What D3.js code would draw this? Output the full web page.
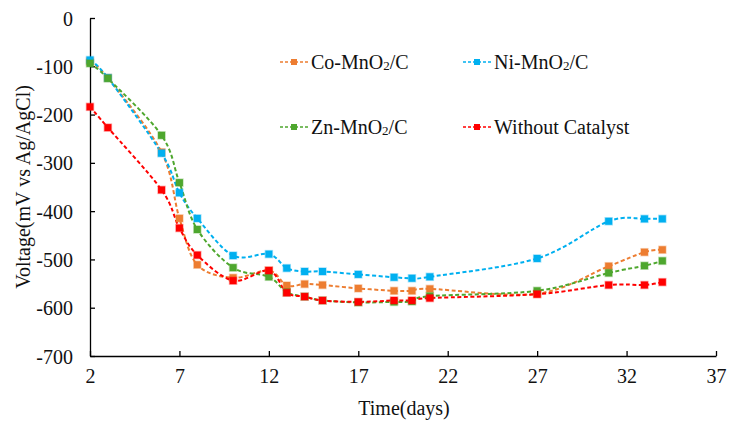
<!DOCTYPE html>
<html>
<head>
<meta charset="utf-8">
<script src="https://cdn.jsdelivr.net/npm/d3@7"></script>
<style>
  body { margin: 0; background: #fff; }
  svg text { font-family: "Liberation Serif", "Times New Roman", serif; fill: #111; }
</style>
</head>
<body>
<svg id="chart" width="729" height="421"></svg>
<script>
// data
var days = [2, 3, 6, 7, 8, 10, 12, 13, 14, 15, 17, 19, 20, 21, 27, 31, 33, 34];
var coVals = [-90, -124, -278, -415, -511, -538, -523, -554, -551, -553, -560, -565, -565, -561, -571, -514, -485, -480];
var niVals = [-87, -124, -280, -362, -415, -492, -489, -518, -525, -525, -531, -537, -539, -536, -498, -421, -416, -416];
var znVals = [-94, -125, -243, -341, -438, -517, -536, -568, -577, -585, -589, -588, -587, -576, -565, -528, -513, -503];
var noCatVals = [-184, -227, -356, -435, -491, -544, -523, -569, -577, -585, -588, -585, -585, -580, -572, -553, -553, -547];

var seriesNames = ["Co-MnO2/C", "Ni-MnO2/C", "Zn-MnO2/C", "Without Catalyst"];
var seriesColors = ["#ED7D31", "#00B0F0", "#4EA72E", "#FF0000"];
var seriesVals = [coVals, niVals, znVals, noCatVals];

var xTicks = [2, 7, 12, 17, 22, 27, 32, 37];
var yTicks = [0, -100, -200, -300, -400, -500, -600, -700];

var svg = d3.select("#chart");
var x = d3.scaleLinear().domain([2, 37]).range([90, 716]);
var y = d3.scaleLinear().domain([-700, 0]).range([356, 18]);

// plain hyphen for negatives, like the original
var fmt = function(d) { return String(d); };

// axes
var xAxis = svg.append("g")
    .attr("transform", "translate(0," + y(-700) + ")")
    .call(d3.axisBottom(x).tickValues(xTicks).tickFormat(fmt).tickSize(-5).tickSizeOuter(0).tickPadding(13));
var yAxis = svg.append("g")
    .attr("transform", "translate(" + x(2) + ",0)")
    .call(d3.axisLeft(y).tickValues(yTicks).tickFormat(fmt).tickSize(-5).tickSizeOuter(0).tickPadding(17));
[xAxis, yAxis].forEach(function(a) {
  a.attr("font-family", "'Liberation Serif', serif").attr("font-size", 20);
  a.select(".domain").attr("stroke", "#000").attr("stroke-width", 1.3);
  a.selectAll(".tick line").attr("stroke", "#000").attr("stroke-width", 1.3);
  a.selectAll(".tick text").style("font-size", "20px").attr("fill", "#111")
    .style("font-family", "'Liberation Serif', serif");
});
yAxis.selectAll(".tick text").attr("dy", "0.35em");

// axis titles
svg.append("text")
  .attr("x", 404).attr("y", 415)
  .attr("text-anchor", "middle")
  .style("font-size", "20px")
  .text("Time(days)");
svg.append("text")
  .attr("transform", "translate(30,187) rotate(-90)")
  .attr("text-anchor", "middle")
  .style("font-size", "20px")
  .text("Voltage(mV vs Ag/AgCl)");

// series lines and markers
var line = d3.line()
  .x(function(d) { return x(d[0]); })
  .y(function(d) { return y(d[1]); })
  .curve(d3.curveCatmullRom.alpha(0));

seriesVals.forEach(function(vals, i) {
  var pts = days.map(function(d, j) { return [d, vals[j]]; });
  svg.append("path")
    .datum(pts)
    .attr("d", line)
    .attr("fill", "none")
    .attr("stroke", seriesColors[i])
    .attr("stroke-width", 2)
    .attr("stroke-dasharray", "4,2.5");
});
seriesVals.forEach(function(vals, i) {
  var pts = days.map(function(d, j) { return [d, vals[j]]; });
  svg.append("g").selectAll("rect")
    .data(pts)
    .enter().append("rect")
    .attr("x", function(d) { return x(d[0]) - 3.5; })
    .attr("y", function(d) { return y(d[1]) - 3.5; })
    .attr("width", 7).attr("height", 7)
    .attr("fill", seriesColors[i])
    .attr("stroke", seriesColors[i])
    .attr("stroke-opacity", 0.35)
    .attr("stroke-width", 1.5);
});

// legend
var legendPos = [[280, 62], [463, 62], [280, 127], [463, 127]];
seriesNames.forEach(function(name, i) {
  var lx = legendPos[i][0], ly = legendPos[i][1];
  var g = svg.append("g").attr("transform", "translate(" + lx + "," + ly + ")");
  g.append("line")
    .attr("x1", 0).attr("x2", 29).attr("y1", 0).attr("y2", 0)
    .attr("stroke", seriesColors[i]).attr("stroke-width", 1.5)
    .attr("stroke-dasharray", "3,2");
  g.append("rect")
    .attr("x", 11).attr("y", -3).attr("width", 6).attr("height", 6)
    .attr("fill", seriesColors[i]);
  var t = g.append("text")
    .attr("x", 31).attr("y", 7)
    .style("font-size", "20px");
  var m = name.match(/^(.*O)2(\/C)$/);
  if (m) {
    t.append("tspan").text(m[1]);
    t.append("tspan").style("font-size", "13px").attr("dy", 1).text("2");
    t.append("tspan").attr("dy", -1).text(m[2]);
  } else {
    t.text(name);
  }
});
</script>
</body>
</html>
